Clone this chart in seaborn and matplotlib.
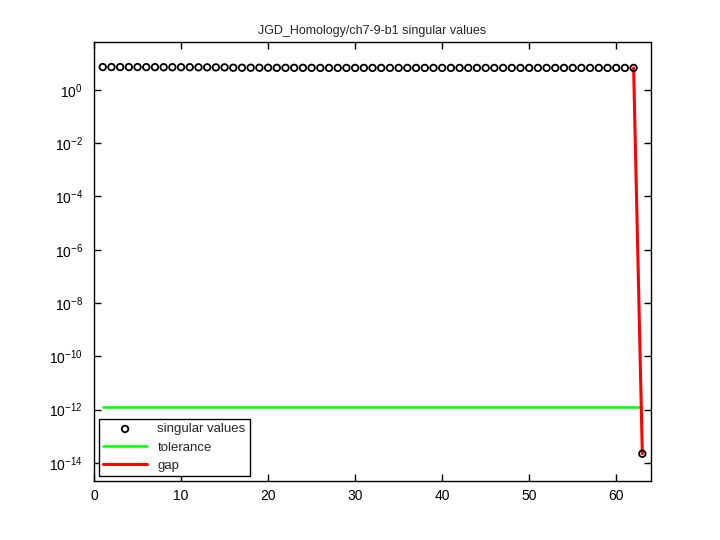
import numpy as np
import pandas as pd
import matplotlib
matplotlib.use("Agg")
import matplotlib.pyplot as plt
import seaborn as sns
from matplotlib.ticker import FixedLocator, NullLocator

sns.set_style("white")
plt.rcParams['font.family'] = ['Liberation Sans', 'DejaVu Sans']
plt.rcParams['axes.unicode_minus'] = False

# singular values (index 1..63)
sv_index = list(range(1, 64))
sv_values = [7.2, 7.2, 7.2, 7.2, 7.2, 7.15, 7.15, 7.1, 7.1, 7.1, 7.1, 7.05, 7.05, 7.0, 7.0,
             6.8, 6.8, 6.8, 6.8, 6.8, 6.75, 6.75, 6.75, 6.75, 6.75, 6.7, 6.7, 6.7, 6.7, 6.7,
             6.7, 6.7, 6.7, 6.7, 6.7, 6.7, 6.7, 6.7, 6.7, 6.7, 6.7, 6.7, 6.7, 6.7, 6.7,
             6.7, 6.7, 6.7, 6.7, 6.7, 6.7, 6.7, 6.7, 6.7, 6.7, 6.7, 6.7, 6.7, 6.7, 6.7,
             6.7, 6.7, 2.2e-14]
tol_x = [1, 63]
tol_y = [1.3e-12, 1.3e-12]
gap_x = [62, 63]
gap_y = [6.7, 2.2e-14]
y_exponents = [-14, -12, -10, -8, -6, -4, -2, 0]

fig = plt.figure(figsize=(7.2, 5.4), dpi=100)
ax = fig.add_axes([0.1306, 0.1093, 0.7736, 0.8130])

df_sv = pd.DataFrame({"x": sv_index, "y": sv_values})
df_tol = pd.DataFrame({"x": tol_x, "y": tol_y})
df_gap = pd.DataFrame({"x": gap_x, "y": gap_y})

sns.scatterplot(data=df_sv, x="x", y="y", ax=ax, marker="o", s=22,
                facecolors="none", edgecolor="black", linewidth=1.3,
                label="singular values", zorder=3)
sns.lineplot(data=df_tol, x="x", y="y", ax=ax, color=(0, 1, 0), linewidth=1.8,
             label="tolerance", zorder=2)
sns.lineplot(data=df_gap, x="x", y="y", ax=ax, color=(1, 0, 0), linewidth=2.2,
             label="gap", zorder=2)

ax.set_yscale("log")
ax.set_xlim(0, 64)
ax.set_ylim(10 ** -14.68, 10 ** 1.8)
ax.set_xticks([0, 10, 20, 30, 40, 50, 60])
ax.set_yticks([10.0 ** k for k in y_exponents])
ax.set_yticklabels([r"$\mathregular{10^{%d}}$" % k for k in y_exponents])
ax.yaxis.set_minor_locator(NullLocator())
ax.set_xlabel("")
ax.set_ylabel("")
ax.set_title("JGD_Homology/ch7-9-b1 singular values", fontsize=9)
ax.tick_params(direction="in", length=5, width=1, labelsize=10, top=True, right=True,
               bottom=True, left=True, colors="black")
ax.tick_params(axis="y", pad=8)
ax.tick_params(axis="x", pad=6)
for sp in ax.spines.values():
    sp.set_visible(True)
    sp.set_color("black")
    sp.set_linewidth(1)

leg = ax.legend(loc="lower left", fontsize=9.5, frameon=True, fancybox=False,
                edgecolor="black", framealpha=1, borderaxespad=0.4,
                handlelength=3.3, borderpad=0.3, labelspacing=0.45)
leg.get_frame().set_linewidth(1)

fig.savefig("out.png", dpi=100, facecolor="white")
